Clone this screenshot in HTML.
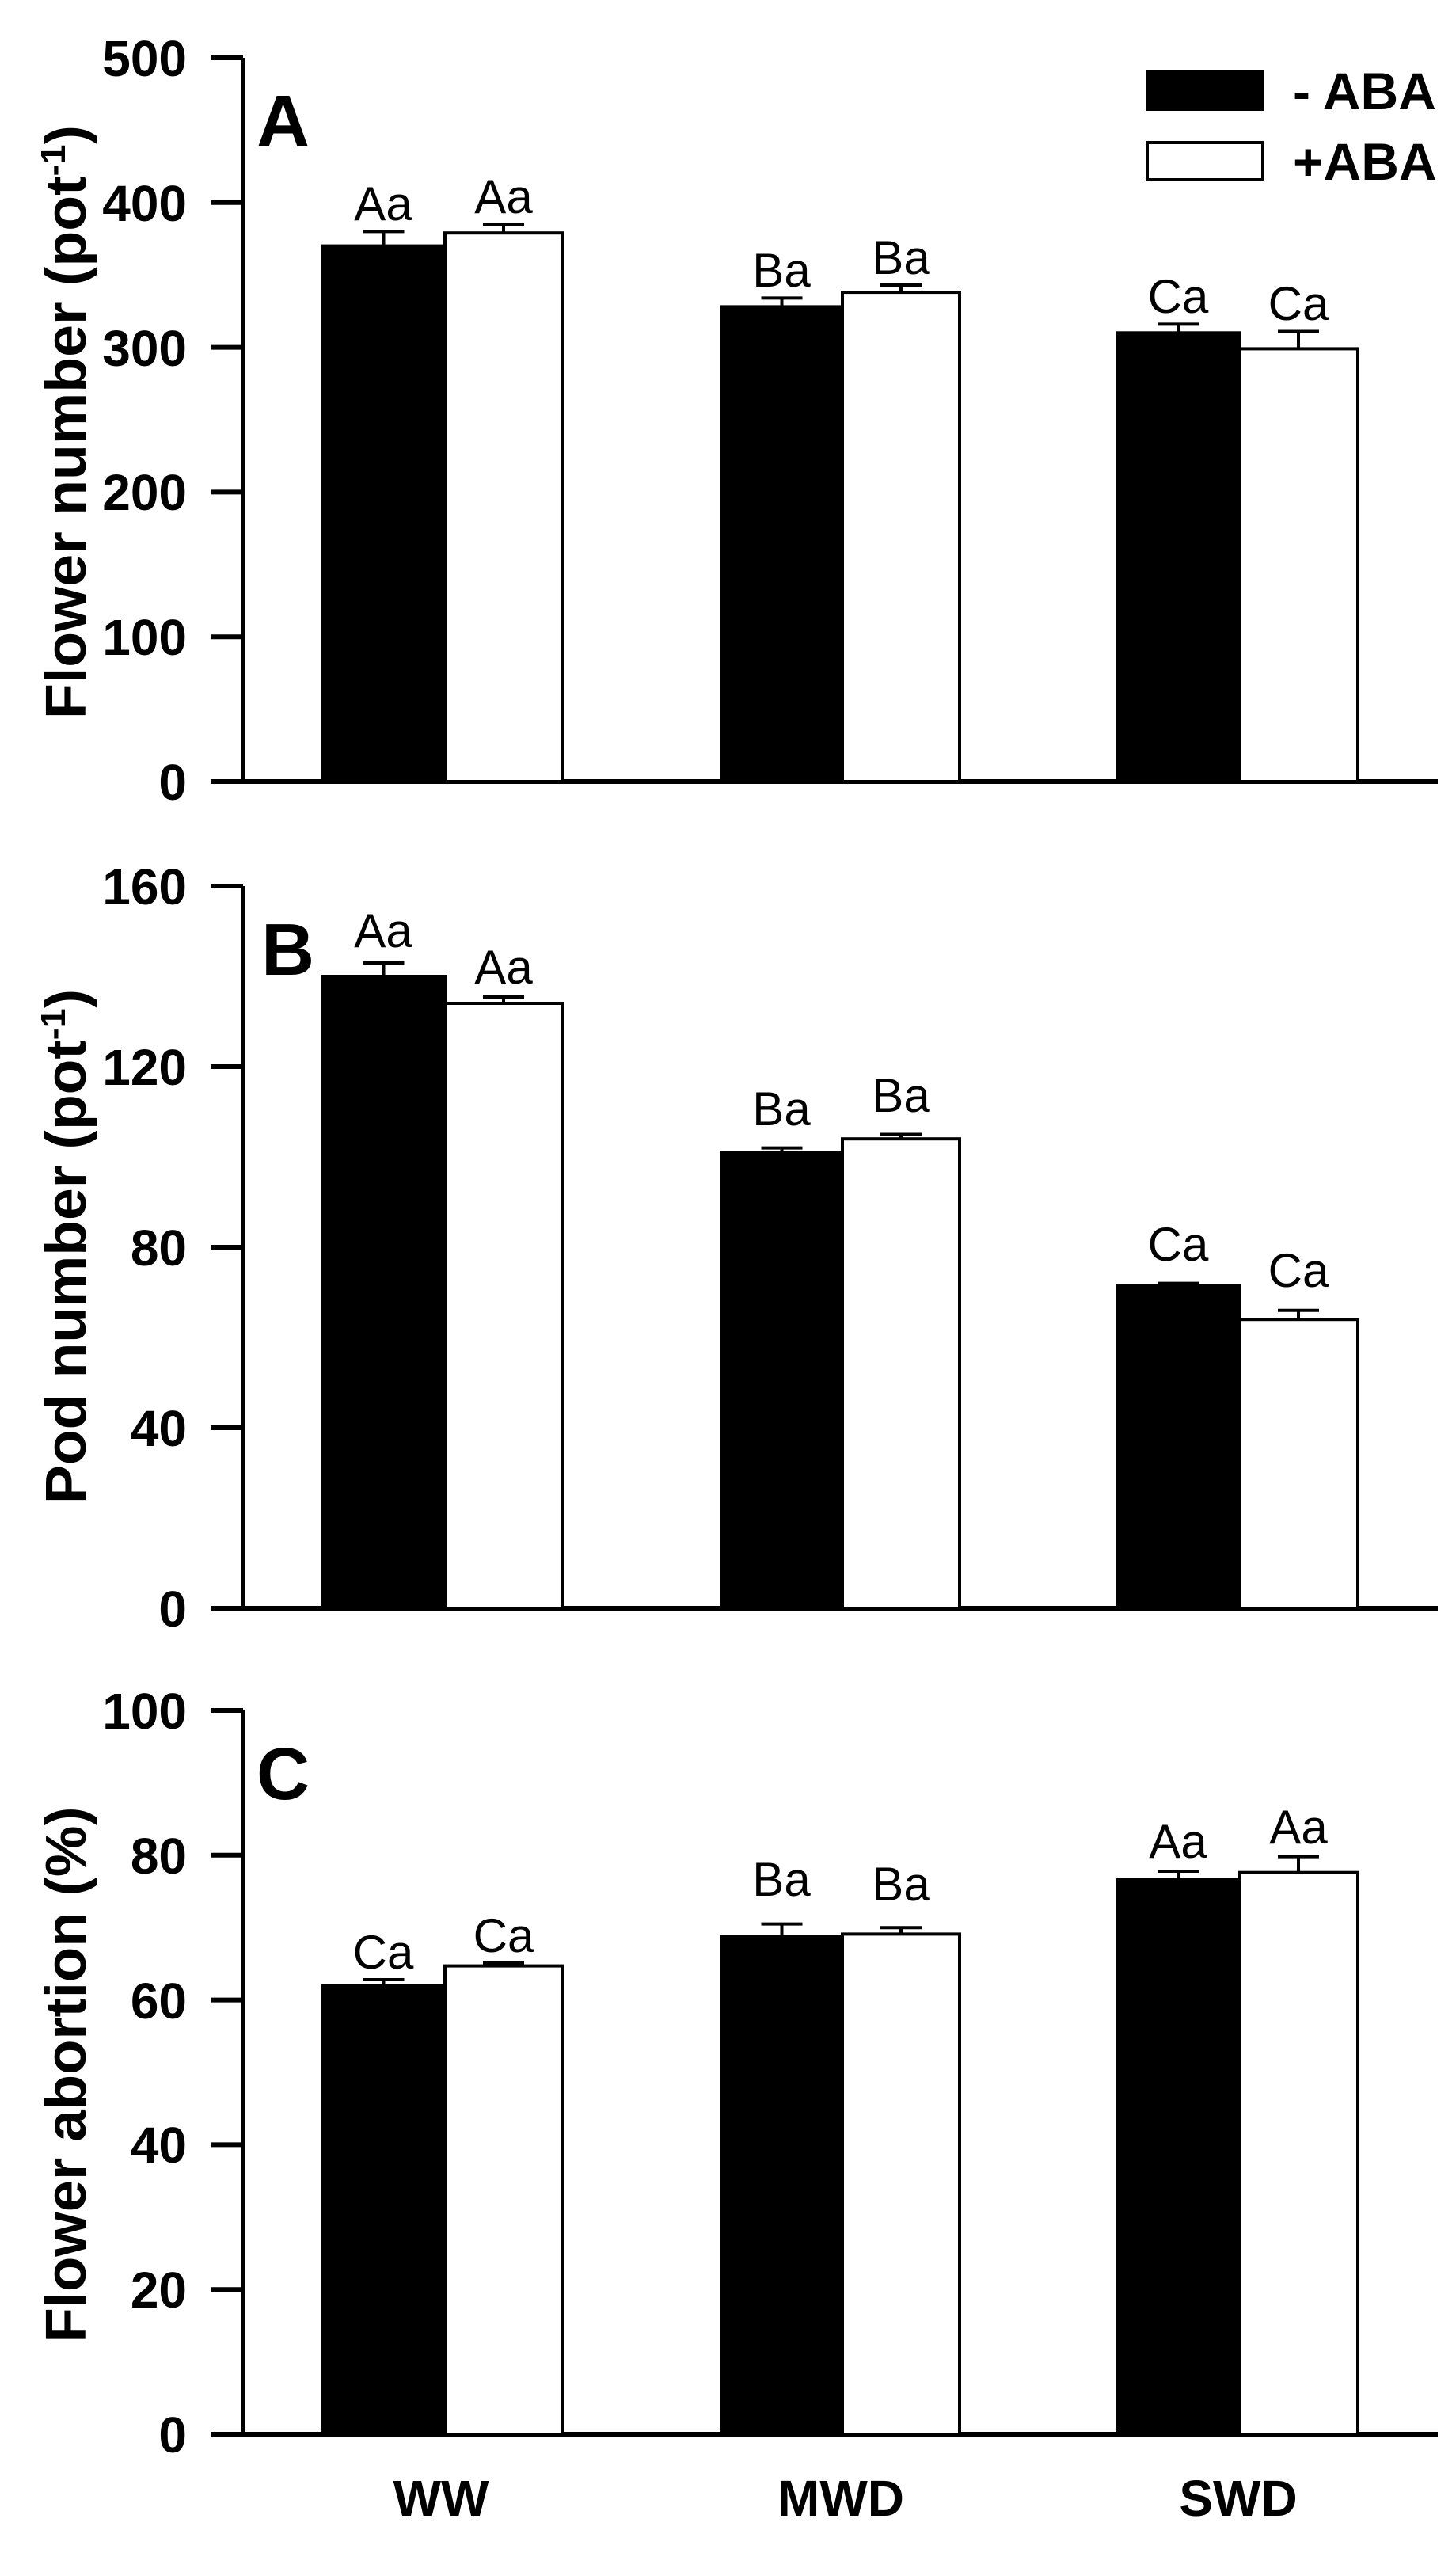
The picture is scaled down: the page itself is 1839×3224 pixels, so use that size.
<!DOCTYPE html>
<html><head><meta charset="utf-8"><style>
html,body{margin:0;padding:0;background:#fff;}
svg{display:block;}
text{font-family:"Liberation Sans",Arial,sans-serif;}
.t{font-size:64px;font-weight:bold;text-anchor:end;}
.a{font-size:60px;text-anchor:middle;}
.p{font-size:93px;font-weight:bold;}
.yt{font-size:72px;font-weight:bold;text-anchor:middle;}
</style></head><body>
<svg width="1839" height="3224" viewBox="0 0 1839 3224" xmlns="http://www.w3.org/2000/svg">
<rect width="1839" height="3224" fill="#fff"/>
<g stroke="#000" stroke-width="6" fill="none">
<!-- Panel A axes -->
<line x1="307" y1="73" x2="307" y2="987"/>
<line x1="267" y1="987" x2="1816" y2="987"/>
<line x1="267" y1="73" x2="307" y2="73"/>
<line x1="267" y1="255.8" x2="307" y2="255.8"/>
<line x1="267" y1="438.6" x2="307" y2="438.6"/>
<line x1="267" y1="621.4" x2="307" y2="621.4"/>
<line x1="267" y1="804.2" x2="307" y2="804.2"/>
<!-- Panel B axes -->
<line x1="307" y1="1119" x2="307" y2="2031"/>
<line x1="267" y1="2031" x2="1816" y2="2031"/>
<line x1="267" y1="1119" x2="307" y2="1119"/>
<line x1="267" y1="1347" x2="307" y2="1347"/>
<line x1="267" y1="1575" x2="307" y2="1575"/>
<line x1="267" y1="1803" x2="307" y2="1803"/>
<!-- Panel C axes -->
<line x1="307" y1="2160" x2="307" y2="3074"/>
<line x1="267" y1="3074" x2="1816" y2="3074"/>
<line x1="267" y1="2160" x2="307" y2="2160"/>
<line x1="267" y1="2342.8" x2="307" y2="2342.8"/>
<line x1="267" y1="2525.6" x2="307" y2="2525.6"/>
<line x1="267" y1="2708.4" x2="307" y2="2708.4"/>
<line x1="267" y1="2891.2" x2="307" y2="2891.2"/>
</g>

<!-- tick labels -->
<g class="t">
<text x="236" y="96">500</text><text x="236" y="279">400</text><text x="236" y="462">300</text>
<text x="236" y="644">200</text><text x="236" y="827">100</text><text x="236" y="1010">0</text>
<text x="236" y="1142">160</text><text x="236" y="1370">120</text><text x="236" y="1598">80</text>
<text x="236" y="1826">40</text><text x="236" y="2054">0</text>
<text x="236" y="2183">100</text><text x="236" y="2366">80</text><text x="236" y="2549">60</text>
<text x="236" y="2731">40</text><text x="236" y="2914">20</text><text x="236" y="3097">0</text>
</g>

<!-- y titles -->
<text class="yt" transform="translate(108,533) rotate(-90)" textLength="750" lengthAdjust="spacingAndGlyphs">Flower number (pot<tspan font-size="44" dy="-26">-1</tspan><tspan dy="26">)</tspan></text>
<text class="yt" transform="translate(108,1574) rotate(-90)" textLength="650" lengthAdjust="spacingAndGlyphs">Pod number (pot<tspan font-size="44" dy="-26">-1</tspan><tspan dy="26">)</tspan></text>
<text class="yt" transform="translate(108,2620) rotate(-90)" textLength="677" lengthAdjust="spacingAndGlyphs">Flower abortion (%)</text>

<!-- panel letters -->
<text class="p" x="324" y="185">A</text>
<text class="p" x="330" y="1231">B</text>
<text class="p" x="324" y="2272">C</text>

<!-- legend -->
<rect x="1447" y="88" width="150" height="52" fill="#000"/>
<rect x="1449" y="180" width="146" height="47" fill="#fff" stroke="#000" stroke-width="4"/>
<text x="1633" y="138" font-size="66" font-weight="bold">- ABA</text>
<text x="1633" y="227" font-size="66" font-weight="bold">+ABA</text>

<!-- Bars Panel A -->
<g stroke="#000" stroke-width="4">
<rect x="407" y="310.6" width="155" height="676.4" fill="#000"/>
<rect x="562" y="294.2" width="148" height="692.8" fill="#fff"/>
<rect x="911" y="387.4" width="153" height="599.6" fill="#000"/>
<rect x="1064" y="369.1" width="148" height="617.9" fill="#fff"/>
<rect x="1411" y="420.3" width="155" height="566.7" fill="#000"/>
<rect x="1566" y="440.4" width="149" height="546.6" fill="#fff"/>
<!-- err A -->
<path d="M484.5 310.6V292.4M458.5 292.4H510.5 M636 294.2V283.2M610 283.2H662 M987.5 387.4V376.4M961.5 376.4H1013.5 M1138 369.1V360M1112 360H1164 M1488.5 420.3V409.4M1462.5 409.4H1514.5 M1640 440.4V418.5M1614 418.5H1666" fill="none"/>
</g>
<g class="a">
<text x="484" y="278">Aa</text><text x="636" y="269">Aa</text>
<text x="987" y="362">Ba</text><text x="1138" y="346">Ba</text>
<text x="1488" y="395">Ca</text><text x="1640" y="404">Ca</text>
</g>

<!-- Bars Panel B -->
<g stroke="#000" stroke-width="4">
<rect x="407" y="1233" width="155" height="798" fill="#000"/>
<rect x="562" y="1267" width="148" height="764" fill="#fff"/>
<rect x="911" y="1455.3" width="153" height="575.7" fill="#000"/>
<rect x="1064" y="1438.2" width="148" height="592.8" fill="#fff"/>
<rect x="1411" y="1623.5" width="155" height="407.5" fill="#000"/>
<rect x="1566" y="1666.2" width="149" height="364.8" fill="#fff"/>
<path d="M484.5 1233V1216M458.5 1216H510.5 M636 1267V1259M610 1259H662 M987.5 1455V1449.6M961.5 1449.6H1013.5 M1138 1438V1432.5M1112 1432.5H1164 M1488.5 1623V1620.6M1462.5 1620.6H1514.5 M1640 1666V1654.8M1614 1654.8H1666" fill="none"/>
</g>
<g class="a">
<text x="484" y="1196">Aa</text><text x="636" y="1242">Aa</text>
<text x="987" y="1421">Ba</text><text x="1138" y="1404">Ba</text>
<text x="1488" y="1592">Ca</text><text x="1640" y="1625">Ca</text>
</g>

<!-- Bars Panel C -->
<g stroke="#000" stroke-width="4">
<rect x="407" y="2507.3" width="155" height="566.7" fill="#000"/>
<rect x="562" y="2482.6" width="148" height="591.4" fill="#fff"/>
<rect x="911" y="2445.2" width="153" height="628.8" fill="#000"/>
<rect x="1064" y="2442.4" width="148" height="631.6" fill="#fff"/>
<rect x="1411" y="2373" width="155" height="701" fill="#000"/>
<rect x="1566" y="2364.7" width="149" height="709.3" fill="#fff"/>
<path d="M484.5 2507V2500M458.5 2500H510.5 M636 2482.6V2479M610 2479H662 M987.5 2445V2429.6M961.5 2429.6H1013.5 M1138 2442.4V2434.2M1112 2434.2H1164 M1488.5 2373V2363M1462.5 2363H1514.5 M1640 2364.7V2344.6M1614 2344.6H1666" fill="none"/>
</g>
<g class="a">
<text x="484" y="2486">Ca</text><text x="636" y="2465">Ca</text>
<text x="987" y="2394">Ba</text><text x="1138" y="2400">Ba</text>
<text x="1488" y="2346">Aa</text><text x="1640" y="2328">Aa</text>
</g>

<!-- x labels -->
<g font-size="64" font-weight="bold" text-anchor="middle">
<text x="557" y="3177">WW</text>
<text x="1062" y="3177">MWD</text>
<text x="1564" y="3177">SWD</text>
</g>
</svg>
</body></html>
